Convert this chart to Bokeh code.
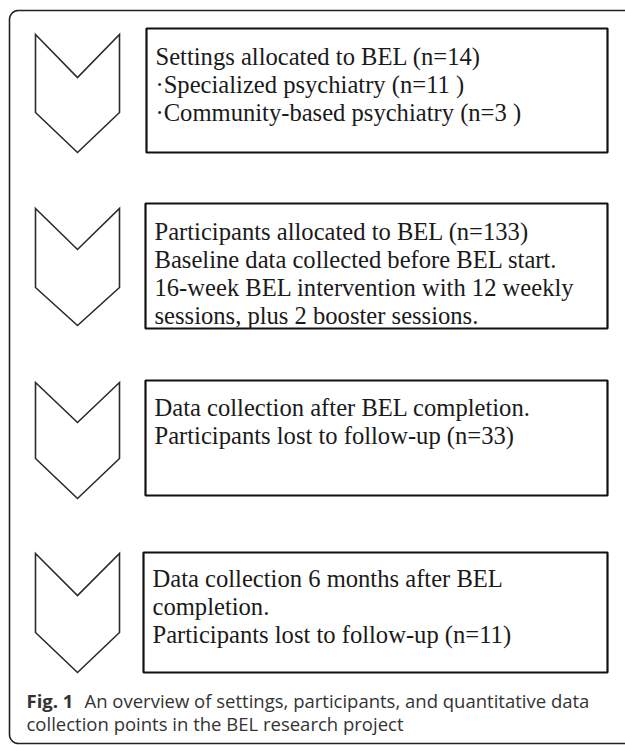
import numpy as np
from bokeh.plotting import figure
from bokeh.models import Range1d
from bokeh.core.properties import value
from bokeh.embed import file_html
from bokeh.resources import INLINE

# ---- content ----
box_texts = [
    ["Settings allocated to BEL (n=14)",
     "\u00b7Specialized psychiatry (n=11 )",
     "\u00b7Community-based psychiatry (n=3 )"],
    ["Participants allocated to BEL (n=133)",
     "Baseline data collected before BEL start.",
     "16-week BEL intervention with 12 weekly",
     "sessions, plus 2 booster sessions."],
    ["Data collection after BEL completion.",
     "Participants lost to follow-up (n=33)"],
    ["Data collection 6 months after BEL",
     "completion.",
     "Participants lost to follow-up (n=11)"],
]
caption_bold = "Fig. 1"
caption_lines = ["An overview of settings, participants, and quantitative data",
                 "collection points in the BEL research project"]

# ---- layout (pixel coordinates) ----
W, H = 625, 745
OX, OY = 0, 0
box_left = [146, 145, 145, 143]
box_right = [607, 607, 607, 607]
box_top = [28, 203, 380, 552]
box_bottom = [152, 328, 495, 672]
chev_top = [34, 208, 382, 553]
chev_notch = [77, 249, 422, 595]
chev_side = [112, 287, 458, 632]
chev_point = [152, 325, 498, 672]
chev_l, chev_r = 35, 119
first_baseline = [56, 231, 407, 578]
line_gap = 28

p = figure(width=W, height=H, output_backend="svg", toolbar_location=None,
           x_range=Range1d(0, W), y_range=Range1d(H, 0),
           min_border=0, outline_line_color=None)
p.axis.visible = False
p.grid.visible = False
p.background_fill_color = "white"
p.border_fill_color = "white"

# outer rounded frame (right side runs off the page)
fl, ft, fb, fr, rad = 9 - OX, 10 - OY, 743 - OY, W + 20, 9
th1 = np.linspace(np.pi / 2, np.pi, 12)
th2 = np.linspace(np.pi, 1.5 * np.pi, 12)
xs = [fr] + list(fl + rad + rad * np.cos(th1)) + list(fl + rad + rad * np.cos(th2)) + [fr]
ys = [ft] + list(ft + rad - rad * np.sin(th1)) + list(fb - rad - rad * np.sin(th2)) + [fb]
p.line(xs, ys, line_color="#222222", line_width=1.6)

# chevrons
cx = (chev_l + chev_r) / 2
for i in range(4):
    px = [chev_l, cx, chev_r, chev_r, cx, chev_l]
    py = [chev_top[i], chev_notch[i], chev_top[i], chev_side[i], chev_point[i], chev_side[i]]
    p.patch([x - OX for x in px], [y - OY for y in py], fill_color=None,
            line_color="#2a2a2a", line_width=1.6, line_join="miter")

# boxes
for i in range(4):
    l, r, t, b = box_left[i] - OX, box_right[i] - OX, box_top[i] - OY, box_bottom[i] - OY
    p.quad(left=l, right=r, top=t, bottom=b, fill_color=None,
           line_color="#111111", line_width=2.2)
    lines = box_texts[i]
    p.text(x=[l + 9] * len(lines),
           y=[first_baseline[i] - OY + k * line_gap for k in range(len(lines))],
           text=lines, text_font=value("Liberation Serif"), text_font_size="24.6px",
           text_color="#1a1a1a", text_baseline="alphabetic", text_align="left")

# caption
cap_x = 26 - OX
cap_y1, cap_y2 = 700 - OY, 723 - OY
p.text(x=[cap_x], y=[cap_y1], text=[caption_bold], text_font=value("Open Sans"),
       text_font_size="18.5px", text_font_style="bold", text_color="#333333",
       text_baseline="alphabetic")
p.text(x=[84 - OX, cap_x], y=[cap_y1, cap_y2], text=caption_lines,
       text_font=value("Open Sans"), text_font_size="18.5px", text_color="#333333",
       text_baseline="alphabetic")

open("out.html", "w").write(file_html(p, INLINE))
